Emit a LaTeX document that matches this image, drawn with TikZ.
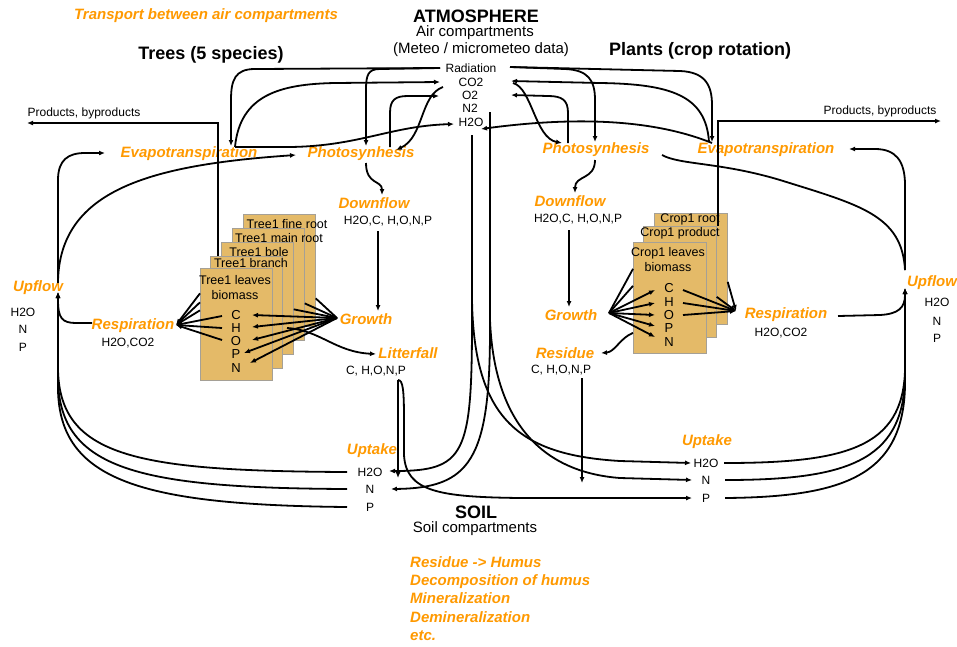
\documentclass[tikz,border=0pt]{standalone}
\usepackage{fontspec}
\setmainfont{Liberation Sans}
\usetikzlibrary{arrows.meta}
\definecolor{procorange}{RGB}{255,153,0}
\definecolor{organtan}{RGB}{228,186,104}
\definecolor{organedge}{RGB}{165,160,150}

\tikzset{
  proc/.style={font=\fontsize{15}{17}\selectfont\bfseries\itshape, text=procorange, inner sep=1pt},
  head/.style={font=\fontsize{18}{20}\selectfont\bfseries, inner sep=1pt},
  sub/.style={font=\fontsize{15}{17}\selectfont, inner sep=1pt},
  pool/.style={font=\fontsize{12}{14}\selectfont, inner sep=1pt},
  organ/.style={draw=organedge, line width=0.7pt, fill=organtan, anchor=north west,
    minimum width=72pt, minimum height=112pt, inner sep=0pt},
  organtxt/.style={font=\fontsize{12.5}{15}\selectfont, inner sep=0pt},
  elem/.style={font=\fontsize{13}{15}\selectfont, inner sep=0pt},
  link/.style={line width=1.8pt},
  flow/.style={link, -{Latex[length=6pt,width=5pt]}},
}

\begin{document}
\begin{tikzpicture}[x=1pt,y=-1pt]
\useasboundingbox (0,0) rectangle (957,646);

% Tree organs, back to front
\node[organ] (fineroot) at (243,214) {};
\node[organtxt] (finerootlbl) at (287,224) {Tree1 fine root};
\node[organ] (mainroot) at (232,228) {};
\node[organtxt] (mainrootlbl) at (279,238) {Tree1 main root};
\node[organ] (bole) at (221,242) {};
\node[organtxt] (bolelbl) at (259,252) {Tree1 bole};
\node[organ] (branch) at (210,256) {};
\node[organtxt] (branchlbl) at (251,263) {Tree1 branch};
\node[organ] (leaves) at (200,268) {};
\node[organtxt, align=center] (leaveslbl) at (235,288) {Tree1 leaves\\biomass};
\foreach \el/\yy in {C/315, H/328, O/341, P/354, N/368}
  \node[elem] (tree\el) at (236,\yy) {\el};

% Crop organs
\node[organ, minimum width=73pt, minimum height=111pt] (croproot) at (654,213) {};
\node[organtxt] (croprootlbl) at (690,219) {Crop1 root};
\node[organ, minimum width=73pt, minimum height=111pt] (cropprod) at (643,226) {};
\node[organtxt] (cropprodlbl) at (680,233) {Crop1 product};
\node[organ, minimum width=73pt, minimum height=111pt] (cropleaves) at (633,242) {};
\node[organtxt, align=center] (cropleaveslbl) at (668,260) {Crop1 leaves\\biomass};
\foreach \el/\yy in {C/288, H/302, O/315, P/328, N/342}
  \node[elem] (crop\el) at (669,\yy) {\el};

% Headings
\node[proc] (transport) at (206,16) {Transport between air compartments};
\node[head] (atmos) at (476,16) {ATMOSPHERE};
\node[sub] (aircomp) at (475,33) {Air compartments};
\node[sub] (meteo) at (481,50) {(Meteo / micrometeo data)};
\node[head] (trees) at (211,55) {Trees (5 species)};
\node[head] (plants) at (700,51) {Plants (crop rotation)};

% Air compartment pools
\node[pool] (rad) at (471,68) {Radiation};
\node[pool] (co2) at (471,82) {CO2};
\node[pool] (o2) at (470,95) {O2};
\node[pool] (n2) at (470,108) {N2};
\node[pool] (h2oair) at (471,122) {H2O};

\node[pool] (prodL) at (84,113) {Products, byproducts};
\node[pool] (prodR) at (880,111) {Products, byproducts};

% Processes
\node[proc] (evapL) at (189,154) {Evapotranspiration};
\node[proc] (photoL) at (361,154) {Photosynhesis};
\node[proc] (photoR) at (596,150) {Photosynhesis};
\node[proc] (evapR) at (766,150) {Evapotranspiration};
\node[proc] (downL) at (374,203) {Downflow};
\node[pool] (dnlistL) at (388,221) {H2O,C, H,O,N,P};
\node[proc] (downR) at (570,201) {Downflow};
\node[pool] (dnlistR) at (578,219) {H2O,C, H,O,N,P};
\node[proc] (growL) at (366,319) {Growth};
\node[proc] (litter) at (408,353) {Litterfall};
\node[pool] (litlist) at (376,371) {C, H,O,N,P};
\node[proc] (respL) at (133,326) {Respiration};
\node[pool] (resplistL) at (128,343) {H2O,CO2};
\node[proc] (growR) at (571,315) {Growth};
\node[proc] (residue) at (565,353) {Residue};
\node[pool] (reslist) at (561,370) {C, H,O,N,P};
\node[proc] (respR) at (786,315) {Respiration};
\node[pool] (resplistR) at (781,333) {H2O,CO2};
\node[proc] (upL) at (38,288) {Upflow};
\foreach \el/\yy in {H2O/312, N/329, P/347}
  \node[pool] (upLlist\el) at (23,\yy) {\el};
\node[proc] (upR) at (932,283) {Upflow};
\foreach \el/\yy in {H2O/302, N/321, P/338}
  \node[pool] (upRlist\el) at (937,\yy) {\el};

% Soil pools
\node[proc] (uptakeL) at (372,451) {Uptake};
\foreach \el/\yy in {H2O/472, N/489, P/507}
  \node[pool] (uptL\el) at (370,\yy) {\el};
\node[proc] (uptakeR) at (707,442) {Uptake};
\foreach \el/\yy in {H2O/463, N/480, P/498}
  \node[pool] (uptR\el) at (706,\yy) {\el};
\node[head] (soil) at (476,512) {SOIL};
\node[sub] (soilcomp) at (475,529) {Soil compartments};
\node[proc, align=left, anchor=west, font=\fontsize{15}{18.3}\selectfont\bfseries\itshape] (soilproc) at (409,598.5)
  {Residue -> Humus\\Decomposition of humus\\Mineralization\\Demineralization\\etc.};

% Exchanges with the air, tree side
\draw[flow] ([shift={(-31,0)}]rad.center) -- (255,69) .. controls (235,69) and (231,80) .. (231,100) -- ([shift={(42,-8)}]evapL.center);
\draw[flow] ([shift={(-31,0)}]rad.center) -- (380,69) .. controls (368,69) and (366,75) .. (366,90) -- ([shift={(5,-8)}]photoL.center);
\draw[flow] ([shift={(46,-7)}]evapL.center) .. controls (240,95) and (280,84) .. (335,83) -- ([shift={(-31,0)}]co2.center);
\draw[flow] ([shift={(46,-7)}]evapL.center) -- (290,147) .. controls (360,146) and (390,126) .. ([shift={(-17,2)}]h2oair.center);
\draw[flow] ([shift={(-28,5)}]co2.center) .. controls (420,95) and (424,137) .. ([shift={(35,-4)}]photoL.center);
\draw[flow] ([shift={(29,-7)}]photoL.center) -- (390,113) .. controls (390,100) and (395,96) .. (408,96) -- ([shift={(-31,1)}]o2.center);

% Exchanges with the air, crop side
\draw[flow] ([shift={(39,-1)}]rad.center) -- (565,69) .. controls (588,70) and (595,80) .. (595,100) -- ([shift={(-1,-8)}]photoR.center);
\draw[flow] ([shift={(39,-1)}]rad.center) -- (680,71) .. controls (705,72) and (712,85) .. (712,105) -- ([shift={(-54,-8)}]evapR.center);
\draw[flow] ([shift={(-57,-8)}]evapR.center) .. controls (706,95) and (670,84) .. (600,83) -- ([shift={(40,-1)}]co2.center);
\draw[flow] ([shift={(42,1)}]co2.center) .. controls (532,88) and (535,138) .. ([shift={(-34,-7)}]photoR.center);
\draw[flow] ([shift={(-28,-7)}]photoR.center) -- (568,113) .. controls (568,100) and (562,96) .. (548,96) -- ([shift={(41,0)}]o2.center);
\draw[flow] ([shift={(-54,-7)}]evapR.center) .. controls (650,118) and (570,117) .. ([shift={(10,7)}]h2oair.center);

% Downflow to growth
\draw[flow] ([shift={(5,9)}]photoL.center) .. controls (366,185) and (382,180) .. ([shift={(8,-8)}]downL.center);
\draw[flow] ([shift={(-10,10)}]dnlistL.center) -- ([shift={(12,-8)}]growL.center);
\draw[flow] ([shift={(-1,10)}]photoR.center) .. controls (595,180) and (575,175) .. ([shift={(5,-8)}]downR.center);
\draw[flow] ([shift={(-9,11)}]dnlistR.center) -- ([shift={(-2,-8)}]growR.center);

% Growth fan, trees
\coordinate (growhubL) at ([shift={(-29,-1)}]growL.center);
\foreach \org/\dy in {fineroot/28, mainroot/19, bole/11}
  \draw[link] (growhubL) -- ([shift={(0,\dy)}]\org.east);
\foreach \el/\dx/\dy in {C/16/0, H/16/-1, O/16/-1, P/8/-1, N/14/-5}
  \draw[flow] (growhubL) -- ([shift={(\dx,\dy)}]tree\el.center);
\draw[flow] ([shift={(51,0)}]treeH.center) .. controls (320,330) and (335,352) .. ([shift={(-32,1)}]litter.center);

% Respiration fan, trees
\coordinate (resphubL) at ([shift={(43,-1)}]respL.center);
\foreach \dy in {-31,-22,-14}
  \draw[flow] ([shift={(0,\dy)}]leaves.west) -- (resphubL);
\foreach \el/\dy in {C/1, H/0, O/-1}
  \draw[flow] ([shift={(-14,\dy)}]tree\el.center) -- (resphubL);

% Growth fan, crops
\coordinate (growhubR) at ([shift={(38,-2)}]growR.center);
\foreach \dy in {-29,-12}
  \draw[link] (growhubR) -- ([shift={(0,\dy)}]cropleaves.west);
\foreach \el/\dy in {C/2, H/1, O/0, P/-2, N/-5}
  \draw[flow] (growhubR) -- ([shift={(-14,\dy)}]crop\el.center);
\draw[flow] ([shift={(0,35)}]cropleaves.west) .. controls (620,338) and (615,352) .. ([shift={(36,0)}]residue.center);

% Respiration fan, crops
\coordinate (resphubR) at ([shift={(-50,-4)}]respR.center);
\foreach \el/\dy in {C/2, H/1, O/0}
  \draw[flow] ([shift={(14,\dy)}]crop\el.center) -- (resphubR);
\draw[flow] ([shift={(0,13)}]croproot.east) -- (resphubR);
\draw[flow] ([shift={(0,15)}]cropprod.east) -- (resphubR);

% Products leaving the system
\draw[flow] ([shift={(8,0)}]branch.north west) |- ([shift={(-57,10)}]prodL.center);
\draw[flow] ([shift={(1,0)}]cropprod.north east) |- ([shift={(61,10)}]prodR.center);

% Upflow, trees
\draw[flow] ([shift={(-23,0)}]uptLH2O.center) .. controls (140,471) and (60,458) .. (58,370) -- ([shift={(20,4)}]upL.center);
\draw[flow] ([shift={(-23,0)}]uptLN.center) .. controls (140,488) and (60,470) .. (58,380) -- ([shift={(20,4)}]upL.center);
\draw[flow] ([shift={(-23,0)}]uptLP.center) .. controls (140,505) and (60,480) .. (58,390) -- ([shift={(20,4)}]upL.center);
\draw[link] ([shift={(-41,-3)}]respL.center) -- (76,323) .. controls (62,323) and (58,318) .. ([shift={(20,12)}]upL.center);
\draw[flow] ([shift={(20,-5)}]upL.center) -- (58,180) .. controls (58,160) and (68,153) .. (85,153) -- ([shift={(-84,-1)}]evapL.center);
\draw[flow] ([shift={(20,-7)}]upL.center) .. controls (60,190) and (150,165) .. ([shift={(-65,1)}]photoL.center);

% Upflow, crops
\draw[flow] ([shift={(18,0)}]uptRH2O.center) .. controls (845,463) and (903,448) .. (905,370) -- ([shift={(-27,5)}]upR.center);
\draw[flow] ([shift={(19,0)}]uptRN.center) .. controls (845,480) and (903,462) .. (905,378) -- ([shift={(-27,5)}]upR.center);
\draw[flow] ([shift={(19,0)}]uptRP.center) .. controls (845,497) and (903,475) .. (905,386) -- ([shift={(-27,5)}]upR.center);
\draw[link] ([shift={(52,1)}]respR.center) -- (880,315) .. controls (898,314) and (905,308) .. ([shift={(-27,12)}]upR.center);
\draw[flow] ([shift={(-27,-13)}]upR.center) -- (905,185) .. controls (905,160) and (895,149) .. (875,149) -- ([shift={(83,-1)}]evapR.center);
\draw[link] ([shift={(-27,-13)}]upR.center) .. controls (902,215) and (860,205) .. (780,180) .. controls (720,162) and (680,165) .. ([shift={(66,5)}]photoR.center);

% Air to soil
\draw[flow] ([shift={(1,13)}]h2oair.center) -- (472,320) .. controls (472,455) and (465,471) .. ([shift={(19,-1)}]uptLH2O.center);
\draw[flow] ([shift={(1,13)}]h2oair.center) -- (472,300) .. controls (474,420) and (520,455) .. (620,461) -- ([shift={(-15,0)}]uptRH2O.center);
\draw[flow] ([shift={(20,4)}]n2.center) -- (490,330) .. controls (490,460) and (470,488) .. ([shift={(21,0)}]uptLN.center);
\draw[flow] ([shift={(20,4)}]n2.center) -- (490,320) .. controls (494,420) and (540,472) .. (620,478) -- ([shift={(-14,0)}]uptRN.center);

% Litter and residue into the soil
\coordinate (litdrop) at (398,478);
\coordinate (resdrop) at (582,483);
\draw[flow] ([shift={(22,9)}]litlist.center) -- (litdrop);
\draw[flow] ([shift={(22,9)}]litlist.center) .. controls (403,380) and (404,390) .. (404,420) -- (404,455) .. controls (406,492) and (440,497) .. (520,498) -- ([shift={(-14,0)}]uptRP.center);
\draw[flow] ([shift={(21,8)}]reslist.center) -- (resdrop);
\end{tikzpicture}
\end{document}
